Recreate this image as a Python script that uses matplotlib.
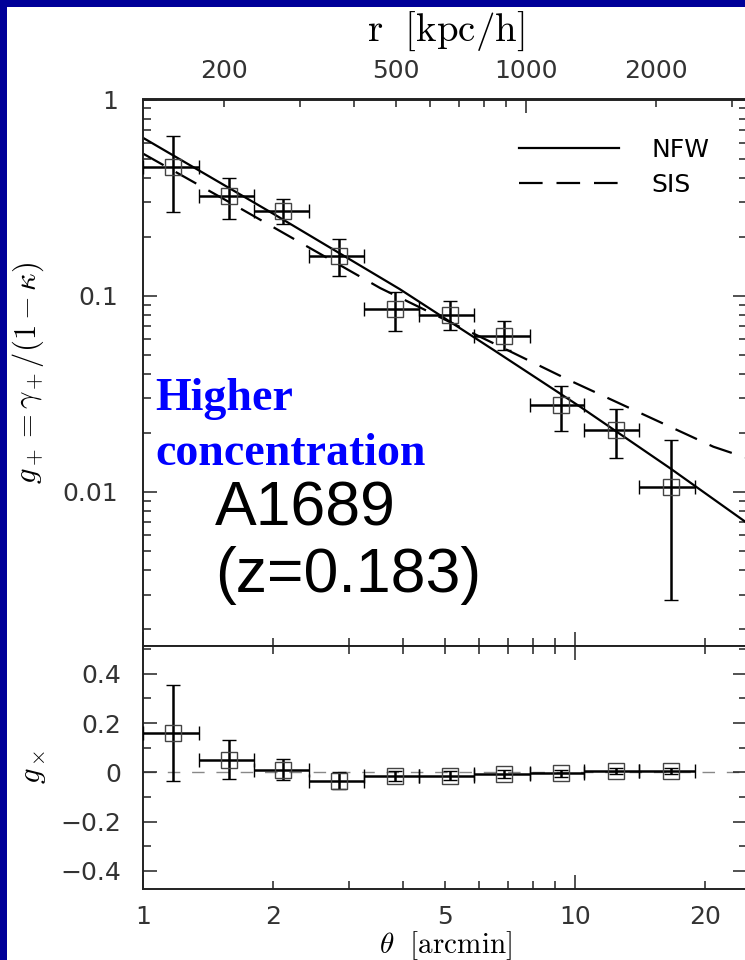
import matplotlib
matplotlib.use('Agg')
import matplotlib.pyplot as plt
import numpy as np
from matplotlib.ticker import FixedLocator, FuncFormatter, NullFormatter
from matplotlib.patches import Rectangle

plt.rcParams['mathtext.fontset'] = 'cm'
plt.rcParams['lines.scale_dashes'] = False

# ---------------- data ----------------
theta = [1.173, 1.584, 2.113, 2.847, 3.83, 5.14, 6.86, 9.28, 12.42, 16.68]
bin_lo = [1.0, 1.348, 1.807, 2.42, 3.25, 4.36, 5.85, 7.87, 10.49, 14.09]
bin_hi = [1.348, 1.807, 2.42, 3.25, 4.36, 5.85, 7.87, 10.49, 14.09, 18.96]

g_plus = [0.454, 0.321, 0.269, 0.159, 0.0855, 0.080, 0.0625, 0.0278, 0.0207, 0.01064]
g_plus_hi = [0.650, 0.398, 0.311, 0.195, 0.105, 0.0935, 0.074, 0.0347, 0.0264, 0.0184]
g_plus_lo = [0.267, 0.246, 0.233, 0.126, 0.0658, 0.0665, 0.053, 0.0205, 0.0149, 0.00281]

g_cross = [0.160, 0.052, 0.011, -0.034, -0.016, -0.013, -0.007, -0.003, 0.004, 0.004]
g_cross_err = [0.195, 0.078, 0.043, 0.035, 0.020, 0.018, 0.016, 0.014, 0.012, 0.012]

theta_nfw = [1.0, 2.0, 3.93, 6.47, 10.27, 16.6, 24.75]
g_nfw = [0.638, 0.262, 0.108, 0.053, 0.0272, 0.0132, 0.00706]

theta_sis = [1.0, 1.618, 3.54, 9.72, 20.9, 24.75]
g_sis = [0.530, 0.292, 0.1094, 0.037, 0.0170, 0.0150]

kpc_per_arcmin = 129.7  # r [kpc/h] = kpc_per_arcmin * theta

theta_major = [1, 10]
theta_minor = [2, 3, 4, 5, 6, 7, 8, 9, 20]
theta_labels = {1: '1', 2: '2', 5: '5', 10: '10', 20: '20'}
r_major = [1000]
r_minor = [200, 300, 400, 500, 600, 700, 800, 900, 2000, 3000]
r_labels = {200: '200', 500: '500', 1000: '1000', 2000: '2000'}
gp_ticks = [0.01, 0.1, 1]
gp_labels = ['0.01', '0.1', '1']
gx_ticks = [-0.4, -0.2, 0, 0.2, 0.4]
gx_labels = ['\u22120.4', '\u22120.2', '0', '0.2', '0.4']
gx_minor = [-0.3, -0.1, 0.1, 0.3, 0.5]

# ---------------- figure ----------------
W, H = 745, 960
fig = plt.figure(figsize=(W / 100, H / 100), dpi=100)
fig.patch.set_facecolor('#000099')
fig.add_artist(Rectangle((7.5 / W, 0), 1, 1 - 6.5 / H, transform=fig.transFigure,
                         facecolor='white', edgecolor='none', zorder=-10))

def fy(py):
    return 1 - py / H

L, R = 143, 747
T1, B1, B2 = 99.5, 645.5, 889.3
ax1 = fig.add_axes([L / W, fy(B1), (R - L) / W, (B1 - T1) / H])
ax2 = fig.add_axes([L / W, fy(B2), (R - L) / W, (B2 - B1) / H])

SP = '#222222'
TL = '#333333'
for ax in (ax1, ax2):
    for s in ax.spines.values():
        s.set_linewidth(1.4)
        s.set_color(SP)
    ax.set_xscale('log')
    ax.set_xlim(1, 25)
    ax.xaxis.set_major_locator(FixedLocator(theta_major))
    ax.xaxis.set_minor_locator(FixedLocator(theta_minor))
    ax.xaxis.set_major_formatter(FuncFormatter(lambda v, p: theta_labels.get(int(round(v)), '')))
    ax.xaxis.set_minor_formatter(FuncFormatter(lambda v, p: theta_labels.get(int(round(v)), '')))
    ax.tick_params(which='both', direction='in', right=True, color=SP,
                   labelcolor=TL, labelsize=18, width=1.1)
    ax.tick_params(which='major', length=10)
    ax.tick_params(which='minor', length=6)

EB = dict(fmt='s', mfc='none', mec='#444444', mew=1.0, ms=11, ecolor='k',
          elinewidth=1.8, capsize=5, capthick=1.8, clip_on=False, zorder=3)

# ---- top panel ----
ax1.set_yscale('log')
ax1.set_ylim(0.00165, 1)
ax1.set_yticks(gp_ticks, gp_labels)
ax1.yaxis.set_minor_formatter(NullFormatter())
ax1.tick_params(axis='x', which='both', top=False, labelbottom=False)
ax1.tick_params(axis='y', which='both', pad=18)

ax1.plot(theta_nfw, g_nfw, color='k', lw=1.6, label='NFW')
ax1.plot(theta_sis, g_sis, color='k', lw=1.6, dashes=(17, 10), label='SIS')

xerr = [np.array(theta) - np.array(bin_lo), np.array(bin_hi) - np.array(theta)]
yerr_p = [np.array(g_plus) - np.array(g_plus_lo), np.array(g_plus_hi) - np.array(g_plus)]
ax1.errorbar(theta, g_plus, xerr=xerr, yerr=yerr_p, **EB)

ax1.legend(loc='upper left', bbox_to_anchor=(0.6225, 0.93), frameon=False, fontsize=18,
           handlelength=4.0, handletextpad=1.3, labelspacing=0.45, borderpad=0,
           borderaxespad=0)

ax1.set_ylabel(r'$g_+ = \gamma_+/(1-\kappa)$', fontsize=22)
ax1.yaxis.set_label_coords((28 - L) / (R - L), 0.5)
ax1.yaxis.label.set_va('center')

# secondary (top) axis in kpc/h
sec = ax1.secondary_xaxis('top', functions=(lambda t: np.asarray(t) * kpc_per_arcmin,
                                             lambda r: np.asarray(r) / kpc_per_arcmin))
sec.xaxis.set_major_locator(FixedLocator(r_major))
sec.xaxis.set_minor_locator(FixedLocator(r_minor))
sec.xaxis.set_major_formatter(FuncFormatter(lambda v, p: r_labels.get(int(round(v)), '')))
sec.xaxis.set_minor_formatter(FuncFormatter(lambda v, p: r_labels.get(int(round(v)), '')))
sec.tick_params(which='both', direction='in', color=SP, labelcolor=TL, labelsize=18,
                width=1.1, pad=12)
sec.tick_params(which='major', length=10)
sec.tick_params(which='minor', length=6)
sec.spines['top'].set_linewidth(1.4)
sec.spines['top'].set_color(SP)
fig.text(446 / W, fy(31), r'$\mathrm{r\ \ [kpc/h]}$', fontsize=28, ha='center', va='center')

# annotations
ax1.text((155 - L) / (R - L), (B1 - 410) / (B1 - T1), 'Higher', transform=ax1.transAxes,
         color='#0000ff', fontsize=33, fontweight='bold', family='Liberation Serif',
         va='baseline', ha='left')
ax1.text((155 - L) / (R - L), (B1 - 465) / (B1 - T1), 'concentration', transform=ax1.transAxes,
         color='#0000ff', fontsize=33, fontweight='bold', family='Liberation Serif',
         va='baseline', ha='left')
ax1.text((215 - L) / (R - L), (B1 - 525) / (B1 - T1), 'A1689', transform=ax1.transAxes,
         color='k', fontsize=45, family='Liberation Sans', va='baseline', ha='left')
ax1.text((215 - L) / (R - L), (B1 - 592) / (B1 - T1), '(z=0.183)', transform=ax1.transAxes,
         color='k', fontsize=45, family='Liberation Sans', va='baseline', ha='left')

# ---- bottom panel ----
ax2.set_ylim(-0.475, 0.515)
ax2.set_yticks(gx_ticks, gx_labels)
ax2.yaxis.set_minor_locator(FixedLocator(gx_minor))
ax2.tick_params(axis='x', which='both', top=True, pad=11)
ax2.tick_params(axis='y', which='both', pad=16)
ax2.axhline(0, color='#888888', lw=1.0, dashes=(9, 8.5), zorder=1)
ax2.errorbar(theta, g_cross, xerr=xerr, yerr=g_cross_err, **EB)
ax2.set_ylabel(r'$g_\times$', fontsize=22)
ax2.yaxis.set_label_coords((33 - L) / (R - L), 0.5)
ax2.yaxis.label.set_va('center')
ax2.set_xlabel(r'$\theta\ \ [\mathrm{arcmin}]$', fontsize=21)
ax2.xaxis.set_label_coords(0.5, (B2 - 929) / (B2 - B1))

fig.savefig('out.png', dpi=100, facecolor=fig.get_facecolor())
